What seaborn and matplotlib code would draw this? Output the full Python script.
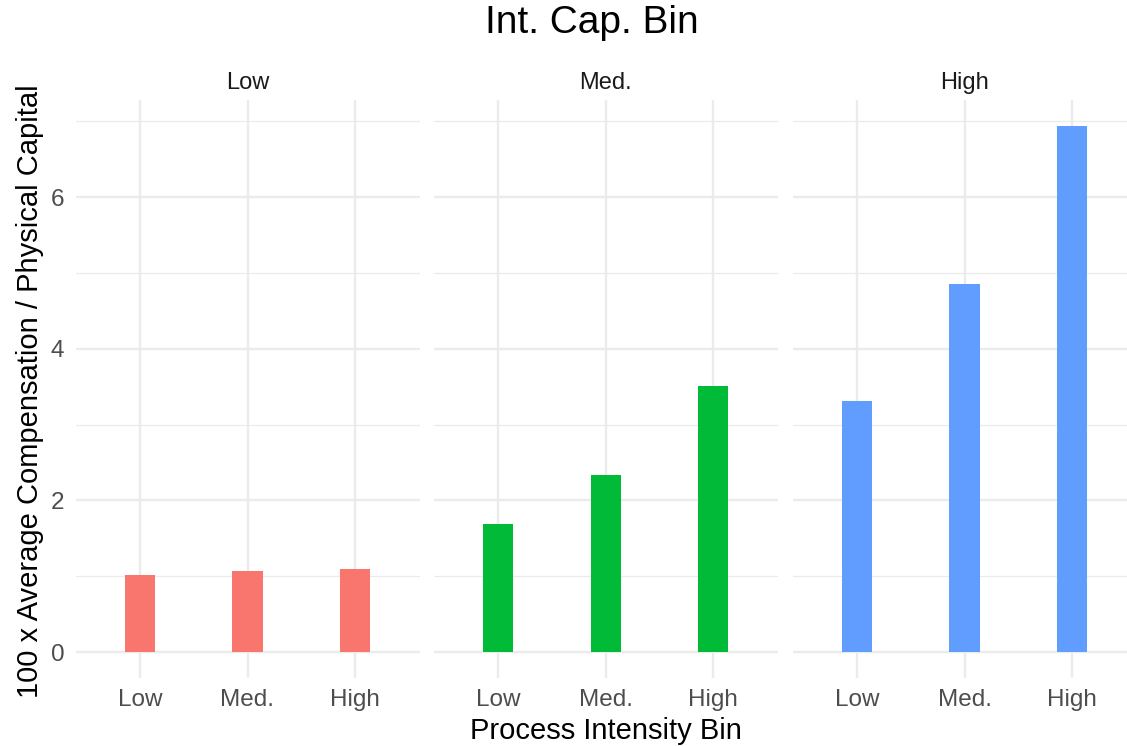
import matplotlib
matplotlib.use("Agg")
import matplotlib.pyplot as plt
import seaborn as sns
import pandas as pd
from matplotlib.ticker import MultipleLocator

sns.set_theme(style="white")
plt.rcParams['font.family'] = ['Liberation Sans', 'DejaVu Sans']

panels = ["Low", "Med.", "High"]
process_bins = ["Low", "Med.", "High"]
values_low = [1.01, 1.07, 1.09]
values_med = [1.69, 2.33, 3.51]
values_high = [3.31, 4.85, 6.93]
colors = ["#F8766D", "#00BA38", "#619CFF"]

df = pd.DataFrame({
    "panel": [p for p in panels for _ in process_bins],
    "proc": process_bins * 3,
    "value": values_low + values_med + values_high,
})

W, H = 1127, 746
fig = plt.figure(figsize=(W / 100, H / 100), dpi=100)

lefts = [75.5, 433.8, 792.5]
pw = 344.0
top_px, bot_px = 100.2, 678.3
ymax = max(df["value"]) * 1.05
ymin = -max(df["value"]) * 0.05

grid_c = "#EBEBEB"
axes = []
for i, (p, c) in enumerate(zip(panels, colors)):
    ax = fig.add_axes([lefts[i] / W, (H - bot_px) / H, pw / W, (bot_px - top_px) / H])
    sub = df[df["panel"] == p]
    sns.barplot(data=sub, x="proc", y="value", order=process_bins, color=c,
                width=0.28, ax=ax, saturation=1, zorder=3, edgecolor="none")
    ax.set_xlim(-0.6, 2.6)
    ax.set_ylim(ymin, ymax)
    ax.yaxis.set_major_locator(MultipleLocator(2))
    ax.yaxis.set_minor_locator(MultipleLocator(1))
    ax.grid(which="major", axis="both", color=grid_c, linewidth=1.7, zorder=0)
    ax.grid(which="minor", axis="y", color=grid_c, linewidth=0.9, zorder=0)
    ax.set_axisbelow(True)
    for s in ax.spines.values():
        s.set_visible(False)
    ax.set_xlabel("")
    ax.set_ylabel("")
    ax.tick_params(axis="both", which="both", length=0, labelsize=17.5,
                   labelcolor="#4D4D4D", pad=8)
    if i > 0:
        ax.set_yticklabels([])
    ax.set_title(p, fontsize=17, color="#1A1A1A", pad=8)
    axes.append(ax)

fig.text(592 / W, 1 - 23 / H, "Int. Cap. Bin", ha="center", va="center",
         fontsize=28, color="black")
fig.text(606 / W, 1 - 731 / H, "Process Intensity Bin", ha="center", va="center",
         fontsize=21, color="black")
fig.text(30 / W, 1 - 391 / H, "100 x Average Compensation / Physical Capital",
         ha="center", va="center", rotation=90, fontsize=21, color="black")

fig.savefig("out.png", dpi=100, facecolor="white")
